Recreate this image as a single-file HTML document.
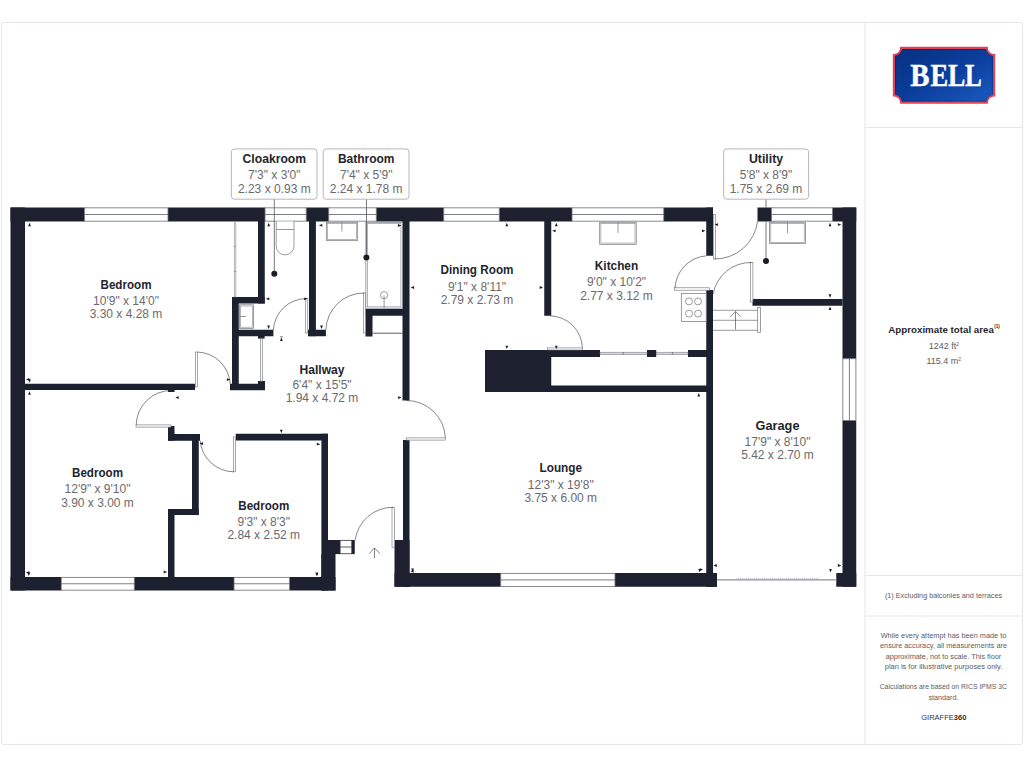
<!DOCTYPE html>
<html>
<head>
<meta charset="utf-8">
<title>Floor plan</title>
<style>
html,body{margin:0;padding:0;background:#fff;}
body{width:1024px;height:768px;overflow:hidden;font-family:"Liberation Sans",sans-serif;}
svg{display:block;}
text{font-family:"Liberation Sans",sans-serif;}
.h{font-weight:bold;font-size:12px;fill:#23252d;text-anchor:middle;}
.d{font-size:12px;fill:#6a6a6e;text-anchor:middle;}
.s{font-size:7.2px;fill:#5c5c60;text-anchor:middle;}
.lg{font-family:"Liberation Serif",serif;font-weight:bold;font-size:32.5px;fill:#fff;stroke:#fff;stroke-width:0.45;}
.w{fill:#1c202f;}
.win{fill:#fff;stroke:#6a6c74;stroke-width:0.8;}
.wl{stroke:#5e6068;stroke-width:0.8;fill:none;}
.leaf{fill:#fcfcfd;stroke:#70727a;stroke-width:0.6;}
.arc{fill:none;stroke:#33363f;stroke-width:0.6;}
.fx{fill:#fff;stroke:#73757d;stroke-width:0.7;}
.fx2{fill:none;stroke:#85878e;stroke-width:0.6;}
.thin{stroke:#6e7078;stroke-width:0.7;fill:none;}
.lbl{fill:#fff;stroke:#a4a4a8;stroke-width:0.8;}
.ld{stroke:#55575e;stroke-width:0.8;fill:none;}
.dot{fill:#1b1d26;}
.m{fill:#1b1d26;}
</style>
</head>
<body>
<svg width="1024" height="768" viewBox="0 0 1024 768">
<defs>
<linearGradient id="lg" x1="0" y1="0" x2="1" y2="1">
<stop offset="0" stop-color="#07307f"/>
<stop offset="0.5" stop-color="#0b3d9c"/>
<stop offset="1" stop-color="#1a5cc0"/>
</linearGradient>
</defs>
<rect x="0" y="0" width="1024" height="768" fill="#ffffff"/>
<!-- frame -->
<rect x="1.5" y="22.5" width="1021" height="722" rx="2" fill="#fff" stroke="#e6e4ec" stroke-width="1"/>
<line x1="865" y1="22.5" x2="865" y2="744.5" stroke="#e6e4ec" stroke-width="1"/>
<line x1="865" y1="127.5" x2="1022.5" y2="127.5" stroke="#e6e4ec" stroke-width="1"/>
<line x1="865" y1="575.5" x2="1022.5" y2="575.5" stroke="#e6e4ec" stroke-width="1"/>
<line x1="865" y1="616" x2="1022.5" y2="616" stroke="#e6e4ec" stroke-width="1"/>

<!-- WALLS -->
<g class="w" id="walls">
<!-- outer left -->
<rect x="10.5" y="207.5" width="14.5" height="383"/>
<!-- top wall segments -->
<rect x="10.5" y="207.5" width="74" height="14"/>
<rect x="168" y="207.5" width="97" height="14"/>
<rect x="306.2" y="207.5" width="22.55" height="14"/>
<rect x="376.25" y="207.5" width="67.5" height="14"/>
<rect x="499.25" y="207.5" width="72.75" height="14"/>
<rect x="663.75" y="207.5" width="49.25" height="14"/>
<rect x="757.5" y="207.5" width="14" height="14"/>
<rect x="832.5" y="207.5" width="23.75" height="14"/>
<!-- bottom wall left part -->
<rect x="10.5" y="577" width="50.75" height="13.5"/>
<rect x="134.25" y="577" width="99.75" height="13.5"/>
<rect x="289.5" y="577" width="46" height="13.5"/>
<!-- lounge bottom wall -->
<rect x="394.5" y="573" width="106.25" height="13.75"/>
<rect x="615" y="573" width="102" height="13.75"/>
<!-- right outer wall -->
<rect x="842.5" y="207.5" width="13.75" height="151.25"/>
<rect x="842.5" y="420.5" width="13.75" height="166.25"/>
<rect x="836.25" y="573" width="20" height="13.75"/>
<!-- bed1/bed2 wall -->
<rect x="25" y="383.75" width="170" height="6.25"/>
<rect x="168" y="389" width="6.5" height="3"/>
<rect x="230" y="383.75" width="35" height="6.5"/>
<!-- closet walls -->
<rect x="232" y="297" width="6.75" height="93"/>
<rect x="258" y="221" width="6.75" height="82.5"/>
<rect x="232" y="297" width="32.75" height="6.5"/>
<rect x="232" y="329.75" width="41.4" height="6.5"/>
<rect x="258" y="336" width="6.6" height="2.6"/>
<rect x="258" y="381" width="7" height="9"/>
<!-- cloak/bath wall -->
<rect x="309" y="221" width="6.9" height="115.2"/>
<rect x="308" y="329.75" width="17.9" height="6.5"/>
<!-- bath right / hall right / lounge left -->
<rect x="402.5" y="221" width="7" height="179.5"/>
<rect x="403" y="440" width="6.5" height="146.75"/>
<rect x="394.5" y="540" width="15" height="46.75"/>
<!-- shower walls -->
<rect x="365.5" y="309" width="43.5" height="6.75"/>
<rect x="365.5" y="309" width="7" height="27.5"/>
<!-- dining/kitchen -->
<rect x="544.25" y="221" width="7" height="94.75"/>
<!-- chimney -->
<rect x="485" y="350" width="66.25" height="42"/>
<rect x="485" y="350" width="115" height="7"/>
<rect x="485" y="385.5" width="228" height="6.5"/>
<rect x="647" y="350" width="9.25" height="7"/>
<rect x="688" y="350" width="25" height="7"/>
<!-- kitchen right / garage left -->
<rect x="706.25" y="207.5" width="6.75" height="48.25"/>
<rect x="706.25" y="290" width="6.75" height="296.75"/>
<rect x="706.25" y="573" width="10.75" height="13.75"/>
<!-- utility bottom -->
<rect x="752.5" y="299" width="90" height="6.75"/>
<!-- bedroom 2 right walls -->
<rect x="168" y="426" width="6.5" height="14.75"/>
<rect x="168" y="434" width="32" height="6.75"/>
<rect x="192" y="434" width="6.75" height="81"/>
<rect x="168" y="509" width="30.75" height="6"/>
<rect x="168" y="509" width="6.5" height="68"/>
<!-- bedroom 3 -->
<rect x="235.75" y="433.75" width="92.25" height="6.75"/>
<rect x="321.4" y="433.75" width="6.6" height="156.75"/>
<rect x="328" y="540" width="12.1" height="14.1"/>
<rect x="321.4" y="554" width="14.1" height="36.5"/>
<rect x="351.75" y="540" width="3" height="14.1"/>
</g>

<!-- WINDOWS -->
<g id="windows">
<g class="win">
<rect x="84.5" y="207.85" width="83.5" height="13.3"/>
<rect x="265" y="207.85" width="41.2" height="13.3"/>
<rect x="328.75" y="207.85" width="47.5" height="13.3"/>
<rect x="443.75" y="207.85" width="55.5" height="13.3"/>
<rect x="572" y="207.85" width="91.75" height="13.3"/>
<rect x="771.5" y="207.85" width="61" height="13.3"/>
<rect x="61.25" y="577.35" width="73" height="12.8"/>
<rect x="234" y="577.35" width="55.5" height="12.8"/>
<rect x="500.75" y="573.35" width="114.25" height="13.05"/>
<rect x="842.85" y="358.75" width="13.05" height="61.75"/>
<rect x="340.1" y="540.35" width="11.65" height="13.4" style="stroke:#30323c"/>
</g>
<g class="wl">
<line x1="84.5" y1="214.5" x2="168" y2="214.5"/>
<line x1="265" y1="214.5" x2="306.2" y2="214.5"/>
<line x1="328.75" y1="214.5" x2="376.25" y2="214.5"/>
<line x1="443.75" y1="214.5" x2="499.25" y2="214.5"/>
<line x1="572" y1="214.5" x2="663.75" y2="214.5"/>
<line x1="771.5" y1="214.5" x2="832.5" y2="214.5"/>
<line x1="61.25" y1="583.75" x2="134.25" y2="583.75"/>
<line x1="234" y1="583.75" x2="289.5" y2="583.75"/>
<line x1="500.75" y1="579.9" x2="615" y2="579.9"/>
<line x1="849.4" y1="358.75" x2="849.4" y2="420.5"/>
<line x1="340.1" y1="547" x2="351.75" y2="547" style="stroke:#30323c"/>
</g>
</g>

<!-- FIXTURES -->
<g id="fixtures">
<!-- bedroom closet line -->
<rect x="234.2" y="221.5" width="1.7" height="75.5" fill="#e4e4e7" stroke="#85878e" stroke-width="0.5"/>
<line class="thin" x1="234.2" y1="246.4" x2="235.9" y2="246.4"/>
<line class="thin" x1="234.2" y1="271.6" x2="235.9" y2="271.6"/>
<!-- closet sink -->
<rect class="fx" x="239.4" y="304.8" width="14.2" height="23.6"/>
<rect class="fx2" x="240.6" y="306" width="11.8" height="21.2"/>
<line class="thin" x1="239.4" y1="316.5" x2="246" y2="316.5"/>
<!-- hallway cupboard door -->
<rect class="leaf" x="260.3" y="338.6" width="2.2" height="42.5"/>
<!-- toilet -->
<path class="fx" d="M276.2 221.5 V246 A8.9 8.9 0 0 0 294 246 V221.5"/>
<line class="thin" x1="276.2" y1="229.5" x2="294" y2="229.5"/>
<!-- bathroom sink -->
<rect class="fx" x="326.3" y="222.3" width="31.4" height="18.3"/>
<rect class="fx2" x="327.6" y="223.6" width="28.8" height="15.7"/>
<line class="thin" x1="341.9" y1="222.3" x2="341.9" y2="231.5"/>
<!-- shower -->
<rect class="fx" x="365.9" y="222.3" width="36.4" height="85.9"/>
<rect class="fx2" x="367.4" y="223.7" width="33.5" height="83.1"/>
<circle class="thin" cx="384.1" cy="295.2" r="3.6"/>
<line class="thin" x1="384.1" y1="295.2" x2="384.1" y2="308"/>
<!-- cupboard below shower -->
<line x1="372.5" y1="333.2" x2="402.5" y2="333.2" stroke="#5a5c64" stroke-width="1"/>
<!-- kitchen sink -->
<rect class="fx" x="599.7" y="222.3" width="36.5" height="22"/>
<rect class="fx2" x="600.9" y="223.5" width="34.1" height="19.6"/>
<line class="thin" x1="618" y1="222.3" x2="618" y2="233"/>
<!-- utility sink -->
<rect class="fx" x="769.6" y="222.3" width="35.8" height="21.3"/>
<rect class="fx2" x="770.8" y="223.5" width="33.4" height="18.9"/>
<line class="thin" x1="787.5" y1="222.3" x2="787.5" y2="233"/>
<!-- hob -->
<rect class="fx" x="681.3" y="293.4" width="24.9" height="28"/>
<circle class="thin" cx="689" cy="301.4" r="3.5"/>
<circle class="thin" cx="698" cy="301.4" r="3.5"/>
<circle class="thin" cx="689" cy="313.6" r="3.5"/>
<circle class="thin" cx="698" cy="313.6" r="3.5"/>
<!-- steps -->
<line class="thin" x1="713" y1="310.3" x2="758" y2="310.3"/>
<line class="thin" x1="713" y1="320.3" x2="758" y2="320.3"/>
<line class="thin" x1="713" y1="330.3" x2="758" y2="330.3"/>
<rect class="fx" x="757.7" y="307.6" width="2.7" height="24.8"/>
<path class="arc" d="M735.5 329.5 V311.6 M730.2 316.6 L735.5 311.4 L740.8 316.6"/>
<!-- sliding door -->
<rect x="600" y="352.2" width="47" height="2.4" fill="#d4d5d9" stroke="#74767e" stroke-width="0.5"/>
<rect x="656.25" y="352.2" width="31.75" height="2.4" fill="#d4d5d9" stroke="#74767e" stroke-width="0.5"/>
<line x1="623.3" y1="352.2" x2="623.3" y2="354.6" stroke="#44464e" stroke-width="0.6"/>
<line x1="672.4" y1="352.2" x2="672.4" y2="354.6" stroke="#44464e" stroke-width="0.6"/>
<!-- garage door -->
<line x1="717" y1="579.9" x2="836.5" y2="579.9" stroke="#8e9097" stroke-width="1.4"/>
<line x1="736" y1="578.8" x2="820" y2="578.8" stroke="#9a9ca2" stroke-width="0.8" stroke-dasharray="1 1"/>
</g>

<!-- DOORS -->
<g id="doors">
<!-- bedroom1 door -->
<rect class="leaf" x="195.4" y="352" width="2.2" height="35"/>
<path class="arc" d="M197.4 352 A34 34 0 0 1 230.2 383.8"/>
<!-- bedroom2 door -->
<rect class="leaf" x="136" y="424.9" width="35" height="2.2"/>
<path class="arc" d="M136.2 425 A35 35 0 0 1 171.2 390.5"/>
<!-- bedroom3 door -->
<rect class="leaf" x="233.4" y="437" width="2.2" height="34.8"/>
<path class="arc" d="M200.2 440.8 A34 34 0 0 0 233.6 471.8"/>
<!-- cloakroom door -->
<rect class="leaf" x="305.4" y="298.6" width="2.4" height="34.4"/>
<path class="arc" d="M306.6 298.6 A33 33 0 0 0 273.4 329.9"/>
<!-- bathroom door -->
<rect class="leaf" x="363.3" y="293" width="2.2" height="40"/>
<path class="arc" d="M364.4 293 A38 38 0 0 0 325.9 329.9"/>
<!-- lounge door -->
<rect class="leaf" x="406.2" y="437.9" width="39.3" height="2.2"/>
<path class="arc" d="M406.2 400.5 A39 39 0 0 1 445.4 438"/>
<!-- dining/kitchen door -->
<rect class="leaf" x="547.3" y="347.9" width="35.2" height="2.1"/>
<path class="arc" d="M550 315.8 A33 33 0 0 1 582.4 347.8"/>
<!-- kitchen/garage door -->
<rect class="leaf" x="674.5" y="287.8" width="35" height="2.4"/>
<path class="arc" d="M675 288 A34 34 0 0 1 706.3 255.8"/>
<!-- back door -->
<rect class="leaf" x="713.3" y="214.5" width="2.2" height="44.5"/>
<path class="arc" d="M714.5 259 A43 43 0 0 0 757.5 221.5"/>
<!-- utility door -->
<rect class="leaf" x="750.5" y="262.5" width="2.4" height="39.5"/>
<path class="arc" d="M751.5 262.5 A38 38 0 0 0 713.2 294"/>
<!-- front door -->
<rect class="leaf" x="392" y="507.25" width="2.4" height="40"/>
<path class="arc" d="M393.2 507.3 A38 38 0 0 0 355.1 540.2"/>
<path class="arc" d="M374.5 558.1 V548 M369.1 553.75 L374.5 547.9 L379.9 553.75"/>
</g>

<g class="m" id="markers">
<polygon points="29.50,222.80 28.10,226.20 30.90,226.20"/>
<polygon points="29.50,382.70 28.10,379.30 30.90,379.30"/>
<polygon points="25.90,379.40 29.30,378.00 29.30,380.80"/>
<polygon points="230.30,379.60 226.90,378.20 226.90,381.00"/>
<polygon points="29.50,391.30 28.10,394.70 30.90,394.70"/>
<polygon points="175.30,397.60 178.70,396.20 178.70,399.00"/>
<polygon points="401.50,397.60 398.10,396.20 398.10,399.00"/>
<polygon points="28.80,575.90 27.40,572.50 30.20,572.50"/>
<polygon points="25.90,572.60 29.30,571.20 29.30,574.00"/>
<polygon points="167.10,572.00 163.70,570.60 163.70,573.40"/>
<polygon points="199.60,443.60 203.00,442.20 203.00,445.00"/>
<polygon points="320.30,444.20 316.90,442.80 316.90,445.60"/>
<polygon points="317.00,576.10 315.60,572.70 318.40,572.70"/>
<polygon points="281.30,433.10 279.90,429.70 282.70,429.70"/>
<polygon points="281.40,337.50 280.00,340.90 282.80,340.90"/>
<polygon points="268.70,222.80 267.30,226.20 270.10,226.20"/>
<polygon points="265.90,298.80 269.30,297.40 269.30,300.20"/>
<polygon points="307.60,298.80 304.20,297.40 304.20,300.20"/>
<polygon points="268.60,329.00 267.20,325.60 270.00,325.60"/>
<polygon points="318.90,225.30 322.30,223.90 322.30,226.70"/>
<polygon points="401.30,225.50 397.90,224.10 397.90,226.90"/>
<polygon points="321.50,329.00 320.10,325.60 322.90,325.60"/>
<polygon points="410.70,287.50 414.10,286.10 414.10,288.90"/>
<polygon points="543.10,287.50 539.70,286.10 539.70,288.90"/>
<polygon points="506.80,222.80 505.40,226.20 508.20,226.20"/>
<polygon points="506.80,349.10 505.40,345.70 508.20,345.70"/>
<polygon points="556.30,222.80 554.90,226.20 557.70,226.20"/>
<polygon points="556.30,349.10 554.90,345.70 557.70,345.70"/>
<polygon points="552.20,230.80 555.60,229.40 555.60,232.20"/>
<polygon points="705.40,230.80 702.00,229.40 702.00,232.20"/>
<polygon points="714.60,224.60 718.00,223.20 718.00,226.00"/>
<polygon points="830.00,222.80 828.60,226.20 831.40,226.20"/>
<polygon points="841.30,224.60 837.90,223.20 837.90,226.00"/>
<polygon points="830.00,297.70 828.60,294.30 831.40,294.30"/>
<polygon points="830.00,306.60 828.60,310.00 831.40,310.00"/>
<polygon points="698.80,393.10 697.40,396.50 700.20,396.50"/>
<polygon points="713.40,565.50 716.80,564.10 716.80,566.90"/>
<polygon points="841.30,565.50 837.90,564.10 837.90,566.90"/>
<polygon points="699.60,572.30 698.20,568.90 701.00,568.90"/>
<polygon points="830.50,572.30 829.10,568.90 831.90,568.90"/>
<polygon points="410.30,571.30 413.70,569.90 413.70,572.70"/>
<polygon points="316.80,576.10 315.40,572.70 318.20,572.70"/>
<polygon points="703.20,569.60 699.80,568.20 699.80,571.00"/>
<polygon points="412.60,571.90 411.20,568.50 414.00,568.50"/>
<rect x="279.9" y="336.6" width="3" height="0.6"/>
</g>
<!-- LABEL BOXES -->
<g id="labels">
<line class="ld" x1="274.3" y1="199.2" x2="274.3" y2="273.5"/>
<line class="ld" x1="366.5" y1="199.2" x2="366.5" y2="257.4"/>
<line class="ld" x1="766" y1="199.2" x2="766" y2="207.5"/>
<line class="ld" x1="766" y1="221.5" x2="766" y2="261"/>
<circle class="dot" cx="274.3" cy="273.7" r="3"/>
<circle class="dot" cx="366.4" cy="257.5" r="3"/>
<circle class="dot" cx="766" cy="261" r="3"/>
<rect class="lbl" x="231.4" y="148.9" width="85.6" height="50.3" rx="3"/>
<rect class="lbl" x="323.2" y="148.9" width="85.8" height="50.3" rx="3"/>
<rect class="lbl" x="723.7" y="148.9" width="84.9" height="50.3" rx="3"/>
</g>

<!-- ROOM TEXT -->
<g id="roomtext">
<text class="h" x="274.3" y="163.2" textLength="63.5" lengthAdjust="spacingAndGlyphs">Cloakroom</text>
<text class="d" x="274.3" y="179.3">7'3" x 3'0"</text>
<text class="d" x="274.3" y="192.6">2.23 x 0.93 m</text>
<text class="h" x="366.2" y="163.2" textLength="56.6" lengthAdjust="spacingAndGlyphs">Bathroom</text>
<text class="d" x="366.2" y="179.3">7'4" x 5'9"</text>
<text class="d" x="366.2" y="192.6">2.24 x 1.78 m</text>
<text class="h" x="766" y="163.2" textLength="34.2" lengthAdjust="spacingAndGlyphs">Utility</text>
<text class="d" x="766" y="179.3">5'8" x 8'9"</text>
<text class="d" x="766" y="192.6">1.75 x 2.69 m</text>

<text class="h" x="126" y="288.9" textLength="51" lengthAdjust="spacingAndGlyphs">Bedroom</text>
<text class="d" x="126" y="304.9">10'9" x 14'0"</text>
<text class="d" x="126" y="318.4">3.30 x 4.28 m</text>

<text class="h" x="97.5" y="477.4" textLength="51" lengthAdjust="spacingAndGlyphs">Bedroom</text>
<text class="d" x="97.5" y="493.1">12'9" x 9'10"</text>
<text class="d" x="97.5" y="506.8">3.90 x 3.00 m</text>

<text class="h" x="263.75" y="509.7" textLength="51" lengthAdjust="spacingAndGlyphs">Bedroom</text>
<text class="d" x="263.75" y="525.8">9'3" x 8'3"</text>
<text class="d" x="263.75" y="539.3">2.84 x 2.52 m</text>

<text class="h" x="322" y="373.5" textLength="45" lengthAdjust="spacingAndGlyphs">Hallway</text>
<text class="d" x="322" y="388.6">6'4" x 15'5"</text>
<text class="d" x="322" y="402.3">1.94 x 4.72 m</text>

<text class="h" x="477" y="274.2" textLength="73" lengthAdjust="spacingAndGlyphs">Dining Room</text>
<text class="d" x="477" y="290.5">9'1" x 8'11"</text>
<text class="d" x="477" y="304.2">2.79 x 2.73 m</text>

<text class="h" x="616.5" y="270.4" textLength="43.3" lengthAdjust="spacingAndGlyphs">Kitchen</text>
<text class="d" x="616.5" y="286.2">9'0" x 10'2"</text>
<text class="d" x="616.5" y="299.6">2.77 x 3.12 m</text>

<text class="h" x="560.75" y="472.2" textLength="42.5" lengthAdjust="spacingAndGlyphs">Lounge</text>
<text class="d" x="560.75" y="488.5">12'3" x 19'8"</text>
<text class="d" x="560.75" y="501.8">3.75 x 6.00 m</text>

<text class="h" x="777.5" y="429.6" textLength="44" lengthAdjust="spacingAndGlyphs">Garage</text>
<text class="d" x="777.5" y="445.5">17'9" x 8'10"</text>
<text class="d" x="777.5" y="458.8">5.42 x 2.70 m</text>
</g>

<!-- SIDEBAR -->
<g id="sidebar">
<!-- logo -->
<path d="M901.2 47.9 H986.8 A7.3 7.3 0 0 0 994.1 55.2 V95.3 A7.3 7.3 0 0 0 986.8 102.6 H901.2 A7.3 7.3 0 0 0 893.9 95.3 V55.2 A7.3 7.3 0 0 0 901.2 47.9 Z" fill="url(#lg)" stroke="#d9465a" stroke-width="2.2" stroke-linejoin="miter"/>
<path d="M901.8 49.6 H986.2 A7.6 7.6 0 0 0 992.4 56 V94.6 A7.6 7.6 0 0 0 986.2 101 H901.8 A7.6 7.6 0 0 0 895.6 94.6 V56 A7.6 7.6 0 0 0 901.8 49.6 Z" fill="none" stroke="#081a50" stroke-opacity="0.5" stroke-width="0.8"/>
<g>
<text class="lg" transform="translate(910.26 85.9) scale(0.886 1)" x="0" y="0">B</text>
<text class="lg" transform="translate(930.5 85.9) scale(0.814 1)" x="0" y="0">E</text>
<text class="lg" transform="translate(947.9 85.9) scale(0.797 1)" x="0" y="0">L</text>
<text class="lg" transform="translate(965.1 85.9) scale(0.772 1)" x="0" y="0">L</text>
</g>

<text x="941.1" y="332.8" text-anchor="middle" style="font-weight:bold;font-size:9.76px;fill:#26272e;">Approximate total area</text>
<text x="997" y="328.3" text-anchor="middle" style="font-weight:bold;font-size:4.6px;fill:#26272e;">(1)</text>
<text class="s" x="943.8" y="349.4" style="font-size:9px;">1242 ft<tspan dy="-3" style="font-size:5px;">2</tspan></text>
<text class="s" x="943.8" y="364.1" style="font-size:9px;">115.4 m<tspan dy="-3" style="font-size:5px;">2</tspan></text>

<text class="s" x="943.5" y="598" textLength="117.2" lengthAdjust="spacingAndGlyphs">(1) Excluding balconies and terraces</text>
<text class="s" x="943.5" y="638.1" textLength="125.6" lengthAdjust="spacingAndGlyphs">While every attempt has been made to</text>
<text class="s" x="943.5" y="648.4" textLength="126.9" lengthAdjust="spacingAndGlyphs">ensure accuracy, all measurements are</text>
<text class="s" x="943.5" y="658.8" textLength="115.6" lengthAdjust="spacingAndGlyphs">approximate, not to scale. This floor</text>
<text class="s" x="943.5" y="669.2" textLength="117.5" lengthAdjust="spacingAndGlyphs">plan is for illustrative purposes only.</text>
<text class="s" x="943.3" y="689.3" textLength="127.3" lengthAdjust="spacingAndGlyphs">Calculations are based on RICS IPMS 3C</text>
<text class="s" x="943.5" y="699.7">standard.</text>
<text x="943.8" y="719.8" text-anchor="middle" style="font-size:7.5px;fill:#333;">GIRAFFE<tspan style="font-weight:bold;">360</tspan></text>
</g>
</svg>
</body>
</html>
